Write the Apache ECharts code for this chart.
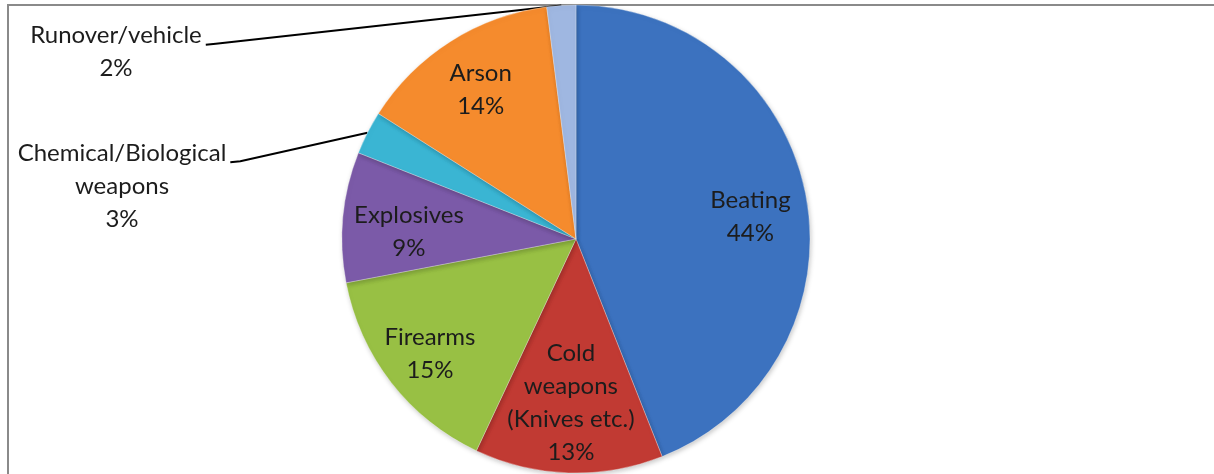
<!DOCTYPE html>
<html>
<head>
<meta charset="utf-8">
<script src="https://cdn.jsdelivr.net/npm/echarts@6/dist/echarts.min.js"></script>
<style>
  html, body { margin: 0; padding: 0; background: #fff; overflow: hidden; }
  #frame { position: absolute; left: 7px; top: 4px; width: 1300px; height: 600px;
           border: 2px solid #8a8a8a; box-sizing: border-box; }
  #chart { position: absolute; left: 0; top: 0; width: 1214px; height: 474px; }
</style>
</head>
<body>
<div id="frame"></div>
<div id="chart"></div>
<script>
// Share of attack methods (percent)
const categories = [
  'Beating',
  'Cold\nweapons\n(Knives etc.)',
  'Firearms',
  'Explosives',
  'Chemical/Biological\nweapons',
  'Arson',
  'Runover/vehicle'
];
const values = [44, 13, 15, 9, 3, 14, 2];
const colors = ['#3c72bf', '#c13a33', '#98c044', '#7b5aa8', '#3ab5d3', '#f58b2d', '#9fb7e1'];

// Pie geometry
const CX = 576, CY = 239, R = 234;
const FONT_SIZE = 24, LINE_H = 33;
// Inside labels: radial position (fraction of radius) plus a small nudge in px
const insideLabelRadius = [0.75, 0.69, 0.79, 0.76, 0, 0.76, 0];
const insideLabelNudge = [[2, 11], [0, 2], [0, 1], [10, 10], [0, 0], [0, 1], [0, 0]];
// Outside labels sit to the left, joined to their slice by a leader line
const outsideLabelPos = { 4: [122, 186], 6: [116, 52] };

const total = values.reduce((a, b) => a + b, 0);
const cumStart = [];
values.reduce((acc, v, i) => { cumStart[i] = acc; return acc + v; }, 0);
const midAngle = i => (cumStart[i] + values[i] / 2) / total * Math.PI * 2;

const chart = echarts.init(document.getElementById('chart'), null, { renderer: 'canvas' });

const data = categories.map((name, i) => {
  const outside = outsideLabelPos[i] !== undefined;
  return {
    name,
    value: values[i],
    itemStyle: { color: colors[i] },
    label: { position: outside ? 'outside' : 'inside', show: true },
    labelLine: { show: outside }
  };
});

chart.setOption({
  animation: false,
  backgroundColor: 'transparent',
  series: [{
    type: 'pie',
    center: [CX, CY],
    radius: [0, R],
    startAngle: 90,
    clockwise: true,
    avoidLabelOverlap: false,
    data,
    itemStyle: {
      borderColor: 'rgba(255,255,255,0.3)',
      borderWidth: 1,
      shadowBlur: 5,
      shadowOffsetX: 1,
      shadowOffsetY: 2,
      shadowColor: 'rgba(0,0,0,0.22)'
    },
    label: {
      formatter: p => p.name + '\n' + p.value + '%',
      fontFamily: 'Lato, "Open Sans", sans-serif',
      fontSize: FONT_SIZE,
      lineHeight: LINE_H,
      color: '#1c1c1c',
      align: 'center'
    },
    labelLine: {
      lineStyle: { color: '#000', width: 2 },
      smooth: false
    },
    labelLayout: function (params) {
      const i = params.dataIndex;
      const a = midAngle(i);
      if (outsideLabelPos[i]) {
        const [lx, ly] = outsideLabelPos[i];
        const w = params.labelRect.width, h = params.labelRect.height;
        // leader line: slice rim -> short horizontal tail at the first text line
        const endX = lx + w / 2 + 4;
        const endY = ly - h / 2 + LINE_H * 0.78;
        const rim = [CX + R * Math.sin(a), CY - R * Math.cos(a)];
        return {
          x: lx, y: ly, align: 'center', verticalAlign: 'middle',
          labelLinePoints: [rim, [endX + 10, endY - 1], [endX, endY]]
        };
      }
      const d = R * insideLabelRadius[i];
      return {
        x: CX + d * Math.sin(a) + insideLabelNudge[i][0],
        y: CY - d * Math.cos(a) + insideLabelNudge[i][1],
        align: 'center', verticalAlign: 'middle'
      };
    }
  }]
});
</script>
</body>
</html>
